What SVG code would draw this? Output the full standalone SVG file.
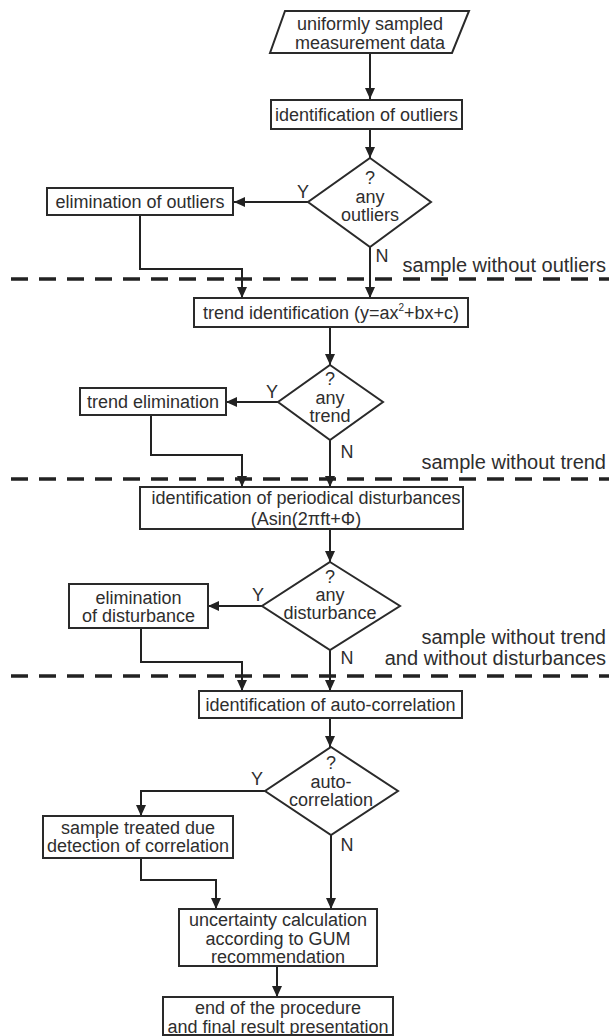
<svg xmlns="http://www.w3.org/2000/svg" width="609" height="1036" viewBox="0 0 609 1036">
<defs>
<marker id="ah" markerUnits="userSpaceOnUse" markerWidth="12" markerHeight="10" refX="11" refY="5" orient="auto">
<path d="M0,0 L11,5 L0,10 Z" fill="#222"/>
</marker>
<style>
.n{fill:#fff;stroke:#2a2a2a;stroke-width:2}
.t{font-family:"Liberation Sans",Arial,sans-serif;font-size:18px;fill:#2e2e2e;text-anchor:middle}
.l{font-family:"Liberation Sans",Arial,sans-serif;font-size:20px;fill:#2e2e2e;text-anchor:end}
.yn{font-family:"Liberation Sans",Arial,sans-serif;font-size:18px;fill:#2e2e2e;text-anchor:middle}
.c{fill:none;stroke:#222;stroke-width:2}
.d{fill:none;stroke:#222;stroke-width:3.5;stroke-dasharray:17 11}
</style>
</defs>
<rect width="609" height="1036" fill="#fff"/>

<g id="separators">
<line class="d" x1="11" y1="279" x2="609" y2="279"/>
<line class="d" x1="11" y1="479" x2="609" y2="479"/>
<line class="d" x1="11" y1="676" x2="609" y2="676"/>
<text class="l" x="606" y="272">sample without outliers</text>
<text class="l" x="606" y="469">sample without trend</text>
<text class="l" x="606" y="644">sample without trend</text>
<text class="l" x="606" y="665">and without disturbances</text>
</g>

<g id="connectors">
<path class="c" d="M370,53 V99" marker-end="url(#ah)"/>
<path class="c" d="M370,129 V158" marker-end="url(#ah)"/>
<path class="c" d="M308,202 H234" marker-end="url(#ah)"/>
<path class="c" d="M140,215 V269 H242 V298" marker-end="url(#ah)"/>
<path class="c" d="M370,247 V298" marker-end="url(#ah)"/>
<path class="c" d="M330,327 V365" marker-end="url(#ah)"/>
<path class="c" d="M278,402 H226" marker-end="url(#ah)"/>
<path class="c" d="M151,415 V455 H242 V487" marker-end="url(#ah)"/>
<path class="c" d="M330,440 V487" marker-end="url(#ah)"/>
<path class="c" d="M330,529 V562" marker-end="url(#ah)"/>
<path class="c" d="M262,606 H208" marker-end="url(#ah)"/>
<path class="c" d="M141,628 V662 H242 V691" marker-end="url(#ah)"/>
<path class="c" d="M330,650 V691" marker-end="url(#ah)"/>
<path class="c" d="M330,718 V747" marker-end="url(#ah)"/>
<path class="c" d="M265,791 H141 V816" marker-end="url(#ah)"/>
<path class="c" d="M141,858 V880 H216 V909" marker-end="url(#ah)"/>
<path class="c" d="M331,835 V909" marker-end="url(#ah)"/>
<path class="c" d="M277,966 V997" marker-end="url(#ah)"/>
<text class="yn" x="303" y="198">Y</text>
<text class="yn" x="382" y="262">N</text>
<text class="yn" x="272" y="398">Y</text>
<text class="yn" x="347" y="458">N</text>
<text class="yn" x="258" y="601">Y</text>
<text class="yn" x="347" y="664">N</text>
<text class="yn" x="257" y="785">Y</text>
<text class="yn" x="347" y="851">N</text>
</g>

<g id="input">
<polygon class="n" points="285,11 469,11 452,53 270,53"/>
<text class="t" x="370" y="30">uniformly sampled</text>
<text class="t" x="370" y="49">measurement data</text>
</g>

<g id="identOutliers">
<rect class="n" x="271" y="100" width="191" height="29"/>
<text class="t" x="366.5" y="120.5">identification of outliers</text>
</g>

<g id="anyOutliers">
<polygon class="n" points="370,158 431,202 370,247 308,202"/>
<text class="t" x="370" y="184">?</text>
<text class="t" x="370" y="203">any</text>
<text class="t" x="370" y="221">outliers</text>
</g>

<g id="elimOutliers">
<rect class="n" x="47" y="188" width="186" height="27"/>
<text class="t" x="140" y="208">elimination of outliers</text>
</g>

<g id="trendIdent">
<rect class="n" x="194" y="298" width="274" height="29"/>
<text class="t" x="331" y="319">trend identification (y=ax<tspan font-size="10" dy="-8">2</tspan><tspan dy="8">+bx+c)</tspan></text>
</g>

<g id="anyTrend">
<polygon class="n" points="330,365 383,402 330,440 278,402"/>
<text class="t" x="330" y="385">?</text>
<text class="t" x="330" y="404">any</text>
<text class="t" x="330" y="422">trend</text>
</g>

<g id="trendElim">
<rect class="n" x="80" y="388" width="146" height="27"/>
<text class="t" x="153" y="408">trend elimination</text>
</g>

<g id="periodIdent">
<rect class="n" x="140" y="487" width="323" height="42"/>
<text class="t" x="306" y="504">identification of periodical disturbances</text>
<text class="t" x="306" y="525">(Asin(2πft+Φ)</text>
</g>

<g id="anyDisturbance">
<polygon class="n" points="330,562 400,606 330,650 262,606"/>
<text class="t" x="330" y="583">?</text>
<text class="t" x="330" y="601">any</text>
<text class="t" x="330" y="619">disturbance</text>
</g>

<g id="elimDisturbance">
<rect class="n" x="69" y="584" width="139" height="44"/>
<text class="t" x="138.5" y="604">elimination</text>
<text class="t" x="138.5" y="622">of disturbance</text>
</g>

<g id="autoIdent">
<rect class="n" x="199" y="691" width="263" height="27"/>
<text class="t" x="330.5" y="711">identification of auto-correlation</text>
</g>

<g id="anyAuto">
<polygon class="n" points="331,747 398,791 331,835 265,791"/>
<text class="t" x="331" y="769">?</text>
<text class="t" x="331" y="788">auto-</text>
<text class="t" x="331" y="806">correlation</text>
</g>

<g id="corrTreated">
<rect class="n" x="43" y="816" width="190" height="42"/>
<text class="t" x="138" y="834">sample treated due</text>
<text class="t" x="138" y="852">detection of correlation</text>
</g>

<g id="uncertainty">
<rect class="n" x="179" y="909" width="198" height="57"/>
<text class="t" x="278" y="926">uncertainty calculation</text>
<text class="t" x="278" y="945">according to GUM</text>
<text class="t" x="278" y="963">recommendation</text>
</g>

<g id="end">
<rect class="n" x="163" y="997" width="230" height="38"/>
<text class="t" x="278" y="1014">end of the procedure</text>
<text class="t" x="278" y="1033">and final result presentation</text>
</g>
</svg>
